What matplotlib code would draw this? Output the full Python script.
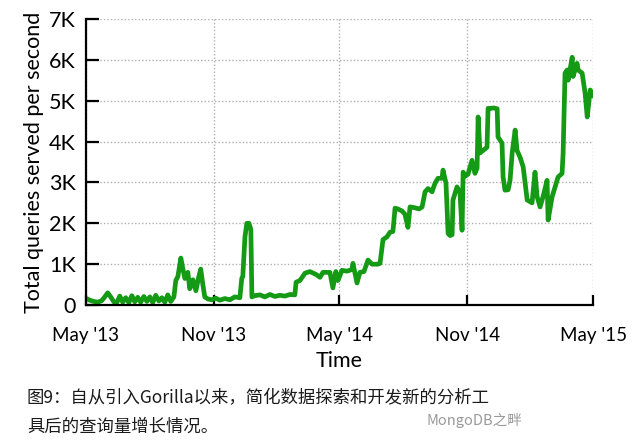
import matplotlib
matplotlib.use("Agg")
import matplotlib.pyplot as plt
import pandas as pd

# months since 1 May 2013
months = [0.00, 0.19, 0.38, 0.57, 0.76, 0.90, 1.04, 1.18, 1.33, 1.47, 1.61, 1.75, 1.89, 2.04,
          2.18, 2.32, 2.46, 2.60, 2.75, 2.89, 3.03, 3.17, 3.31, 3.46, 3.60, 3.74, 3.88, 4.02,
          4.17, 4.26, 4.36, 4.50, 4.59, 4.69, 4.83, 4.92, 5.07, 5.21, 5.35, 5.44, 5.54, 5.63,
          5.78, 5.96, 6.15, 6.34, 6.58, 6.82, 7.05, 7.29, 7.38, 7.43, 7.53, 7.62, 7.72, 7.81,
          7.86, 8.00, 8.24, 8.47, 8.71, 8.95, 9.18, 9.42, 9.66, 9.89, 9.95, 10.13, 10.37, 10.60,
          10.89, 11.08, 11.22, 11.55, 11.69, 11.83, 11.93, 12.12, 12.36, 12.59, 12.64, 12.83,
          12.97, 13.16, 13.35, 13.54, 13.82, 13.92, 14.06, 14.25, 14.39, 14.53, 14.63, 14.77,
          14.96, 15.10, 15.24, 15.34, 15.57, 15.76, 15.91, 16.05, 16.19, 16.38, 16.52, 16.66,
          16.85, 16.90, 17.04, 17.14, 17.23, 17.33, 17.37, 17.56, 17.70, 17.80, 17.85, 17.94,
          18.08, 18.27, 18.41, 18.51, 18.56, 18.65, 18.79, 18.98, 19.03, 19.12, 19.31, 19.46,
          19.50, 19.69, 19.74, 19.83, 19.98, 20.07, 20.17, 20.31, 20.40, 20.54, 20.69, 20.88,
          21.11, 21.25, 21.35, 21.49, 21.63, 21.82, 21.87, 22.06, 22.20, 22.34, 22.53, 22.58,
          22.67, 22.77, 22.82, 23.01, 23.05, 23.24, 23.29, 23.48, 23.62, 23.72, 23.86, 24.00]

queries = [170, 120, 90, 70, 110, 200, 300, 200, 80, 60, 220, 70, 180, 60,
           230, 80, 190, 70, 210, 90, 200, 60, 240, 100, 180, 70, 250, 90,
           200, 600, 700, 1150, 900, 650, 800, 400, 620, 350, 700, 880, 500, 200,
           150, 130, 170, 120, 160, 130, 200, 180, 650, 700, 1660, 2000, 2000, 1850,
           200, 230, 250, 200, 260, 210, 240, 220, 260, 250, 560, 600, 780, 820,
           750, 680, 800, 800, 420, 820, 600, 850, 830, 870, 1020, 540,
           800, 820, 1100, 1000, 1000, 1020, 1600, 1670, 1780, 1800, 2370, 2350,
           2300, 2220, 1900, 2400, 2380, 2350, 2400, 2770, 2850, 2770, 2980, 3100,
           3100, 3300, 2980, 1750, 1700, 1720, 2570, 2890, 2760, 1830, 3250, 3150,
           3200, 3540, 3220, 3350, 4600, 3720, 3780, 3860, 4810, 4810, 4820, 4800,
           4110, 3960, 3130, 2810, 2820, 3050, 3720, 4280, 3780, 3620, 3380, 2570,
           2500, 3250, 2650, 2400, 2650, 3050, 2080, 2650, 2890, 3130, 3220, 3720,
           5670, 5750, 5500, 6060, 5590, 5910, 5750, 5670, 5180, 4600, 5260, 5130]

y_ticks = [0, 1000, 2000, 3000, 4000, 5000, 6000, 7000]
y_labels = ["0", "1K", "2K", "3K", "4K", "5K", "6K", "7K"]
x_tick_dates = ["2013-05-01", "2013-11-01", "2014-05-01", "2014-11-01", "2015-05-01"]
x_labels = ["May '13", "Nov '13", "May '14", "Nov '14", "May '15"]
caption = ["图9：自从引入Gorilla以来，简化数据探索和开发新的分析工",
           "具后的查询量增长情况。"]
watermark = "MongoDB之畔"

start = pd.Timestamp("2013-05-01")
dates = [start + pd.Timedelta(days=m * 30.42) for m in months]

plt.rcParams['font.family'] = ['Lato', 'DejaVu Sans']

fig = plt.figure(figsize=(6.35, 4.48), dpi=100)
ax = fig.add_axes([0.135, 0.319, 0.799, 0.639])

ax.plot(dates, queries, color="#159a15", lw=3.4, solid_joinstyle="round")

ax.set_xlim(pd.Timestamp(x_tick_dates[0]), pd.Timestamp(x_tick_dates[-1]))
ax.set_ylim(0, 7000)
ax.set_yticks(y_ticks)
ax.set_yticklabels(y_labels)
ax.set_xticks([pd.Timestamp(d) for d in x_tick_dates])
ax.set_xticklabels(x_labels)

ax.grid(True, color="#b0b0b0", linestyle=(0, (1, 1.5)), lw=1.0)
ax.set_axisbelow(True)
for s in ["top", "right"]:
    ax.spines[s].set_visible(False)
for s in ["left", "bottom"]:
    ax.spines[s].set_linewidth(1.6)
    ax.spines[s].set_color("black")

ax.tick_params(axis="y", direction="in", length=9, width=1.6, labelsize=15.5, pad=7)
ax.tick_params(axis="x", direction="in", length=7, width=1.6, labelsize=13.5, pad=16)

ax.set_xlabel("Time", fontsize=15.5, labelpad=5)
ax.set_ylabel("Total queries served per second", fontsize=15.5, labelpad=4)

cjk = ['Noto Sans CJK SC', 'DejaVu Sans']
fig.text(27 / 635, 1 - 398 / 448, caption[0], fontsize=12.5, family=cjk,
         va="center", ha="left", color="#1a1a1a")
fig.text(27 / 635, 1 - 427 / 448, caption[1], fontsize=12.5, family=cjk,
         va="center", ha="left", color="#1a1a1a")
fig.text(427 / 635, 1 - 420 / 448, watermark, fontsize=10.5, family=cjk,
         va="center", ha="left", color="#9a9a9a")

fig.savefig("out.png", dpi=100)
